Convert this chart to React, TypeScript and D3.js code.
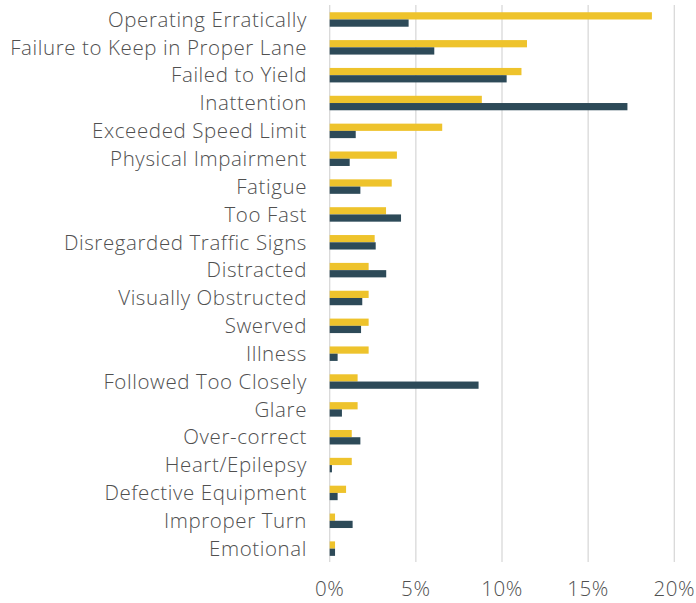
import React, { useEffect, useRef } from 'react';
import * as d3 from 'd3';

const categories = [
  'Operating Erratically',
  'Failure to Keep in Proper Lane',
  'Failed to Yield',
  'Inattention',
  'Exceeded Speed Limit',
  'Physical Impairment',
  'Fatigue',
  'Too Fast',
  'Disregarded Traffic Signs',
  'Distracted',
  'Visually Obstructed',
  'Swerved',
  'Illness',
  'Followed Too Closely',
  'Glare',
  'Over-correct',
  'Heart/Epilepsy',
  'Defective Equipment',
  'Improper Turn',
  'Emotional',
];
const seriesA = [18.7, 11.45, 11.13, 8.83, 6.53, 3.9, 3.6, 3.27, 2.61, 2.26, 2.26, 2.26, 2.26, 1.62, 1.62, 1.28, 1.28, 0.95, 0.31, 0.31];
const seriesB = [4.58, 6.07, 10.27, 17.28, 1.51, 1.16, 1.78, 4.14, 2.67, 3.28, 1.89, 1.82, 0.46, 8.64, 0.71, 1.78, 0.13, 0.46, 1.33, 0.31];
const ticks = [0, 5, 10, 15, 20];

const App = () => {
  const ref = useRef(null);

  useEffect(() => {
    const svg = d3.select(ref.current);
    svg.selectAll('*').remove();

    const x = d3.scaleLinear().domain([0, 20]).range([329.7, 674.3]);
    const y = d3.scaleBand().domain(categories).range([5, 562]);
    const sub = d3.scaleBand().domain(['a', 'b']).range([y.bandwidth() * 0.26, y.bandwidth() * 0.78]);

    svg.append('g')
      .selectAll('line')
      .data(ticks)
      .enter()
      .append('line')
      .attr('x1', d => x(d))
      .attr('x2', d => x(d))
      .attr('y1', 5)
      .attr('y2', 562)
      .attr('stroke', '#d9d9d9')
      .attr('stroke-width', 1.3);

    const rows = svg.append('g')
      .selectAll('g')
      .data(categories)
      .enter()
      .append('g')
      .attr('transform', d => `translate(0, ${y(d)})`);

    rows.append('rect')
      .attr('x', x(0))
      .attr('y', sub('a'))
      .attr('height', sub.bandwidth())
      .attr('width', (d, i) => x(seriesA[i]) - x(0))
      .attr('fill', '#eec32c');

    rows.append('rect')
      .attr('x', x(0))
      .attr('y', sub('b'))
      .attr('height', sub.bandwidth())
      .attr('width', (d, i) => x(seriesB[i]) - x(0))
      .attr('fill', '#2d4a58');

    rows.append('text')
      .attr('x', 307)
      .attr('y', y.bandwidth() / 2 + 7.8)
      .attr('text-anchor', 'end')
      .style('font-family', '"Open Sans", sans-serif')
      .style('font-weight', '300')
      .style('font-size', '20.5px')
      .style('letter-spacing', '0.6px')
      .style('fill', '#505050')
      .text(d => d);

    svg.append('g')
      .selectAll('text')
      .data(ticks)
      .enter()
      .append('text')
      .attr('x', d => x(d))
      .attr('y', 596)
      .attr('text-anchor', 'middle')
      .style('font-family', '"Open Sans", sans-serif')
      .style('font-weight', '300')
      .style('font-size', '20.5px')
      .style('letter-spacing', '0.6px')
      .style('fill', '#505050')
      .text(d => `${d}%`);
  }, []);

  return (
    <div style={{ position: 'absolute', left: 0, top: 0 }}>
      <svg ref={ref} width={696} height={603} style={{ display: 'block', background: '#fff' }} />
    </div>
  );
};

export default App;
